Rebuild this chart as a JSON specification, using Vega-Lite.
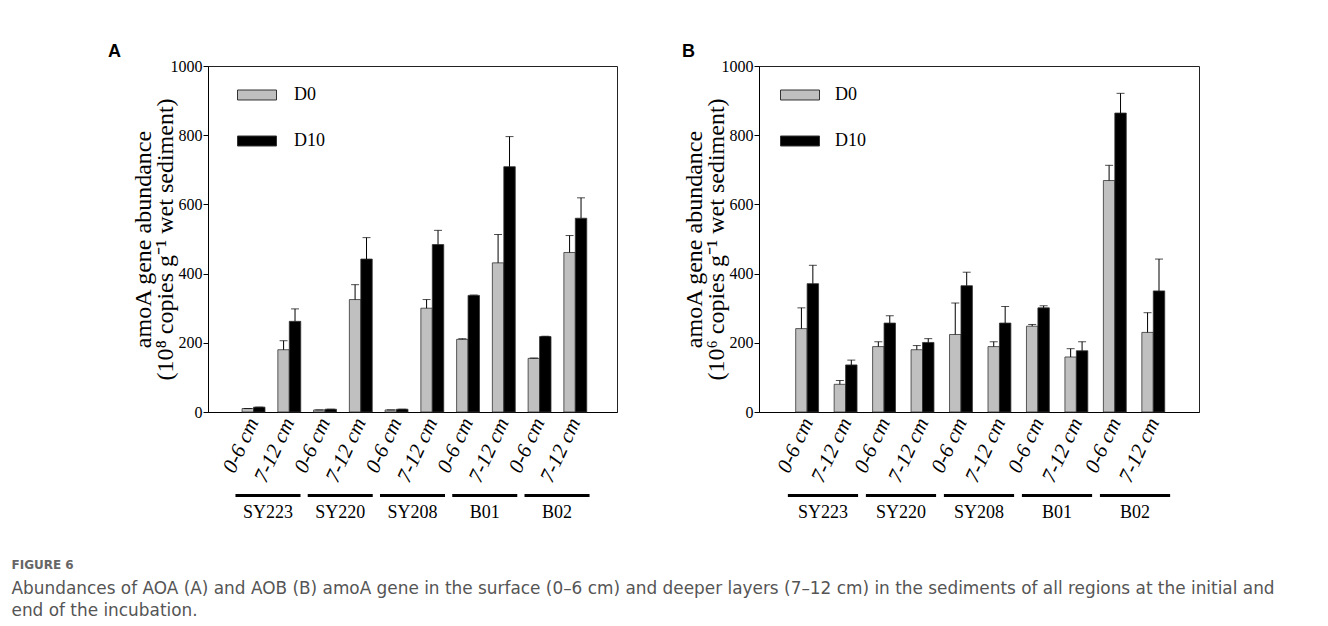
{
  "$schema": "https://vega.github.io/schema/vega-lite/v6.json",
  "background": "white",
  "padding": {"left": 11, "top": 42, "right": 5, "bottom": 5},
  "datasets": {
    "aoa": [
      {"site": "SY223", "depth": "0-6 cm", "key": "SY223|0-6 cm", "day": "D0", "value": 10, "upper": 10},
      {"site": "SY223", "depth": "0-6 cm", "key": "SY223|0-6 cm", "day": "D10", "value": 14, "upper": 14},
      {"site": "SY223", "depth": "7-12 cm", "key": "SY223|7-12 cm", "day": "D0", "value": 180, "upper": 206},
      {"site": "SY223", "depth": "7-12 cm", "key": "SY223|7-12 cm", "day": "D10", "value": 262, "upper": 298},
      {"site": "SY220", "depth": "0-6 cm", "key": "SY220|0-6 cm", "day": "D0", "value": 6, "upper": 6},
      {"site": "SY220", "depth": "0-6 cm", "key": "SY220|0-6 cm", "day": "D10", "value": 8, "upper": 8},
      {"site": "SY220", "depth": "7-12 cm", "key": "SY220|7-12 cm", "day": "D0", "value": 325, "upper": 368},
      {"site": "SY220", "depth": "7-12 cm", "key": "SY220|7-12 cm", "day": "D10", "value": 442, "upper": 504},
      {"site": "SY208", "depth": "0-6 cm", "key": "SY208|0-6 cm", "day": "D0", "value": 6, "upper": 6},
      {"site": "SY208", "depth": "0-6 cm", "key": "SY208|0-6 cm", "day": "D10", "value": 8, "upper": 8},
      {"site": "SY208", "depth": "7-12 cm", "key": "SY208|7-12 cm", "day": "D0", "value": 300, "upper": 325},
      {"site": "SY208", "depth": "7-12 cm", "key": "SY208|7-12 cm", "day": "D10", "value": 484, "upper": 525},
      {"site": "B01", "depth": "0-6 cm", "key": "B01|0-6 cm", "day": "D0", "value": 210, "upper": 212},
      {"site": "B01", "depth": "0-6 cm", "key": "B01|0-6 cm", "day": "D10", "value": 337, "upper": 338},
      {"site": "B01", "depth": "7-12 cm", "key": "B01|7-12 cm", "day": "D0", "value": 431, "upper": 513},
      {"site": "B01", "depth": "7-12 cm", "key": "B01|7-12 cm", "day": "D10", "value": 709, "upper": 796},
      {"site": "B02", "depth": "0-6 cm", "key": "B02|0-6 cm", "day": "D0", "value": 155, "upper": 156},
      {"site": "B02", "depth": "0-6 cm", "key": "B02|0-6 cm", "day": "D10", "value": 218, "upper": 219},
      {"site": "B02", "depth": "7-12 cm", "key": "B02|7-12 cm", "day": "D0", "value": 461, "upper": 510},
      {"site": "B02", "depth": "7-12 cm", "key": "B02|7-12 cm", "day": "D10", "value": 560, "upper": 619}
    ],
    "aob": [
      {"site": "SY223", "depth": "0-6 cm", "key": "SY223|0-6 cm", "day": "D0", "value": 241, "upper": 301},
      {"site": "SY223", "depth": "0-6 cm", "key": "SY223|0-6 cm", "day": "D10", "value": 371, "upper": 424},
      {"site": "SY223", "depth": "7-12 cm", "key": "SY223|7-12 cm", "day": "D0", "value": 80, "upper": 91},
      {"site": "SY223", "depth": "7-12 cm", "key": "SY223|7-12 cm", "day": "D10", "value": 136, "upper": 150},
      {"site": "SY220", "depth": "0-6 cm", "key": "SY220|0-6 cm", "day": "D0", "value": 189, "upper": 203},
      {"site": "SY220", "depth": "0-6 cm", "key": "SY220|0-6 cm", "day": "D10", "value": 257, "upper": 278},
      {"site": "SY220", "depth": "7-12 cm", "key": "SY220|7-12 cm", "day": "D0", "value": 180, "upper": 192},
      {"site": "SY220", "depth": "7-12 cm", "key": "SY220|7-12 cm", "day": "D10", "value": 201, "upper": 212},
      {"site": "SY208", "depth": "0-6 cm", "key": "SY208|0-6 cm", "day": "D0", "value": 224, "upper": 315},
      {"site": "SY208", "depth": "0-6 cm", "key": "SY208|0-6 cm", "day": "D10", "value": 365, "upper": 404},
      {"site": "SY208", "depth": "7-12 cm", "key": "SY208|7-12 cm", "day": "D0", "value": 189, "upper": 203},
      {"site": "SY208", "depth": "7-12 cm", "key": "SY208|7-12 cm", "day": "D10", "value": 257, "upper": 305},
      {"site": "B01", "depth": "0-6 cm", "key": "B01|0-6 cm", "day": "D0", "value": 248, "upper": 253},
      {"site": "B01", "depth": "0-6 cm", "key": "B01|0-6 cm", "day": "D10", "value": 301, "upper": 307},
      {"site": "B01", "depth": "7-12 cm", "key": "B01|7-12 cm", "day": "D0", "value": 159, "upper": 183},
      {"site": "B01", "depth": "7-12 cm", "key": "B01|7-12 cm", "day": "D10", "value": 177, "upper": 203},
      {"site": "B02", "depth": "0-6 cm", "key": "B02|0-6 cm", "day": "D0", "value": 669, "upper": 713},
      {"site": "B02", "depth": "0-6 cm", "key": "B02|0-6 cm", "day": "D10", "value": 864, "upper": 921},
      {"site": "B02", "depth": "7-12 cm", "key": "B02|7-12 cm", "day": "D0", "value": 230, "upper": 287},
      {"site": "B02", "depth": "7-12 cm", "key": "B02|7-12 cm", "day": "D10", "value": 350, "upper": 442}
    ],
    "sites": [
      {"site": "SY223"}, {"site": "SY220"}, {"site": "SY208"}, {"site": "B01"}, {"site": "B02"}
    ]
  },
  "title": {
    "text": "FIGURE 6",
    "subtitle": [
      "Abundances of AOA (A) and AOB (B) amoA gene in the surface (0–6 cm) and deeper layers (7–12 cm) in the sediments of all regions at the initial and",
      "end of the incubation."
    ],
    "orient": "bottom",
    "anchor": "start",
    "frame": "bounds",
    "dx": -96,
    "offset": 39,
    "font": "DejaVu Sans",
    "fontSize": 12,
    "fontWeight": "bold",
    "color": "#666666",
    "subtitleFont": "DejaVu Sans",
    "subtitleFontSize": 16.9,
    "subtitleColor": "#555555",
    "subtitleLineHeight": 22,
    "subtitlePadding": 9
  },
  "spacing": 63,
  "resolve": {"scale": {"color": "independent", "y": "independent", "x": "independent"}, "legend": {"color": "independent"}},
  "hconcat": [
    {
      "spacing": 8,
      "resolve": {"scale": {"x": "independent"}},
      "vconcat": [
        {
          "title": {"text": "A", "anchor": "start", "frame": "bounds", "font": "Liberation Sans", "fontSize": 18, "fontWeight": "bold", "color": "#000000", "dx": -23, "offset": -3},
          "width": 409,
          "height": 346,
          "data": {"name": "aoa"},
          "encoding": {
            "x": {"field": "key", "type": "nominal", "sort": null,
              "scale": {"paddingInner": 0.36, "paddingOuter": 0.9, "align": 0.53},
              "axis": {"title": null, "ticks": false, "domainColor": "#000000", "labelExpr": "split(datum.label, '|')[1]", "labelAngle": -65, "labelFont": "Liberation Serif", "labelFontStyle": "italic", "labelFontSize": 21, "labelColor": "#000000", "labelPadding": 7}},
            "xOffset": {"field": "day", "type": "nominal", "sort": ["D0", "D10"], "scale": {"paddingInner": 0, "paddingOuter": 0}}
          },
          "layer": [
            {
              "mark": {"type": "bar", "stroke": "#333333", "strokeWidth": 0.8},
              "encoding": {
                "y": {"field": "value", "type": "quantitative", "scale": {"domain": [0, 1000], "nice": false},
                  "axis": {"title": ["amoA gene abundance", "(10⁸ copies g⁻¹ wet sediment)"], "format": "d", "values": [0, 200, 400, 600, 800, 1000], "grid": false, "tickSize": 5, "tickColor": "#000000", "domainColor": "#000000", "labelFont": "Liberation Serif", "labelFontSize": 16, "labelColor": "#000000", "labelPadding": 1, "titleFont": "Liberation Serif", "titleFontSize": 24, "titleFontWeight": "normal", "titleColor": "#000000", "titlePadding": -7, "titleLineHeight": 22}},
                "color": {"field": "day", "type": "nominal", "sort": ["D0", "D10"],
                  "scale": {"domain": ["D0", "D10"], "range": ["#c0c0c0", "#000000"]},
                  "legend": {"orient": "none", "legendX": 29, "legendY": 9, "title": null, "symbolType": "M-1,-0.256L1,-0.256L1,0.256L-1,0.256Z", "symbolSize": 1521, "symbolStrokeColor": "#333333", "symbolStrokeWidth": 1, "labelFont": "Liberation Serif", "labelFontSize": 18, "labelColor": "#000000", "labelOffset": 17, "rowPadding": 17}}
              }
            },
            {
              "mark": {"type": "rule", "color": "#000000", "strokeWidth": 1},
              "encoding": {"y": {"field": "value", "type": "quantitative"}, "y2": {"field": "upper"}}
            },
            {
              "mark": {"type": "tick", "color": "#000000", "thickness": 1, "size": 8},
              "encoding": {"y": {"field": "upper", "type": "quantitative"}}
            }
          ]
        },
        {
          "width": 409,
          "height": 3,
          "view": {"stroke": null},
          "data": {"name": "sites"},
          "mark": {"type": "bar", "color": "#000000"},
          "encoding": {
            "x": {"field": "site", "type": "nominal", "sort": null,
              "scale": {"paddingInner": 0.1, "paddingOuter": 0.38},
              "axis": {"title": null, "ticks": false, "domain": false, "labelAngle": 0, "labelFont": "Liberation Serif", "labelFontSize": 18, "labelColor": "#000000", "labelPadding": 6}}
          }
        }
      ]
    },
    {
      "spacing": 8,
      "resolve": {"scale": {"x": "independent"}},
      "vconcat": [
        {
          "title": {"text": "B", "anchor": "start", "frame": "bounds", "font": "Liberation Sans", "fontSize": 18, "fontWeight": "bold", "color": "#000000", "dx": 0, "offset": -3},
          "width": 440,
          "height": 346,
          "data": {"name": "aob"},
          "encoding": {
            "x": {"field": "key", "type": "nominal", "sort": null,
              "scale": {"paddingInner": 0.36, "paddingOuter": 0.9, "align": 0.53},
              "axis": {"title": null, "ticks": false, "domainColor": "#000000", "labelExpr": "split(datum.label, '|')[1]", "labelAngle": -65, "labelFont": "Liberation Serif", "labelFontStyle": "italic", "labelFontSize": 21, "labelColor": "#000000", "labelPadding": 7}},
            "xOffset": {"field": "day", "type": "nominal", "sort": ["D0", "D10"], "scale": {"paddingInner": 0, "paddingOuter": 0}}
          },
          "layer": [
            {
              "mark": {"type": "bar", "stroke": "#333333", "strokeWidth": 0.8},
              "encoding": {
                "y": {"field": "value", "type": "quantitative", "scale": {"domain": [0, 1000], "nice": false},
                  "axis": {"title": ["amoA gene abundance", "(10⁶ copies g⁻¹ wet sediment)"], "format": "d", "values": [0, 200, 400, 600, 800, 1000], "grid": false, "tickSize": 5, "tickColor": "#000000", "domainColor": "#000000", "labelFont": "Liberation Serif", "labelFontSize": 16, "labelColor": "#000000", "labelPadding": 1, "titleFont": "Liberation Serif", "titleFontSize": 24, "titleFontWeight": "normal", "titleColor": "#000000", "titlePadding": -7, "titleLineHeight": 22}},
                "color": {"field": "day", "type": "nominal", "sort": ["D0", "D10"],
                  "scale": {"domain": ["D0", "D10"], "range": ["#c0c0c0", "#000000"]},
                  "legend": {"orient": "none", "legendX": 21, "legendY": 9, "title": null, "symbolType": "M-1,-0.256L1,-0.256L1,0.256L-1,0.256Z", "symbolSize": 1521, "symbolStrokeColor": "#333333", "symbolStrokeWidth": 1, "labelFont": "Liberation Serif", "labelFontSize": 18, "labelColor": "#000000", "labelOffset": 15, "rowPadding": 17}}
              }
            },
            {
              "mark": {"type": "rule", "color": "#000000", "strokeWidth": 1},
              "encoding": {"y": {"field": "value", "type": "quantitative"}, "y2": {"field": "upper"}}
            },
            {
              "mark": {"type": "tick", "color": "#000000", "thickness": 1, "size": 8},
              "encoding": {"y": {"field": "upper", "type": "quantitative"}}
            }
          ]
        },
        {
          "width": 440,
          "height": 3,
          "view": {"stroke": null},
          "data": {"name": "sites"},
          "mark": {"type": "bar", "color": "#000000"},
          "encoding": {
            "x": {"field": "site", "type": "nominal", "sort": null,
              "scale": {"paddingInner": 0.1, "paddingOuter": 0.37},
              "axis": {"title": null, "ticks": false, "domain": false, "labelAngle": 0, "labelFont": "Liberation Serif", "labelFontSize": 18, "labelColor": "#000000", "labelPadding": 6}}
          }
        }
      ]
    }
  ],
  "config": {
    "view": {"stroke": "#222222"}
  }
}
